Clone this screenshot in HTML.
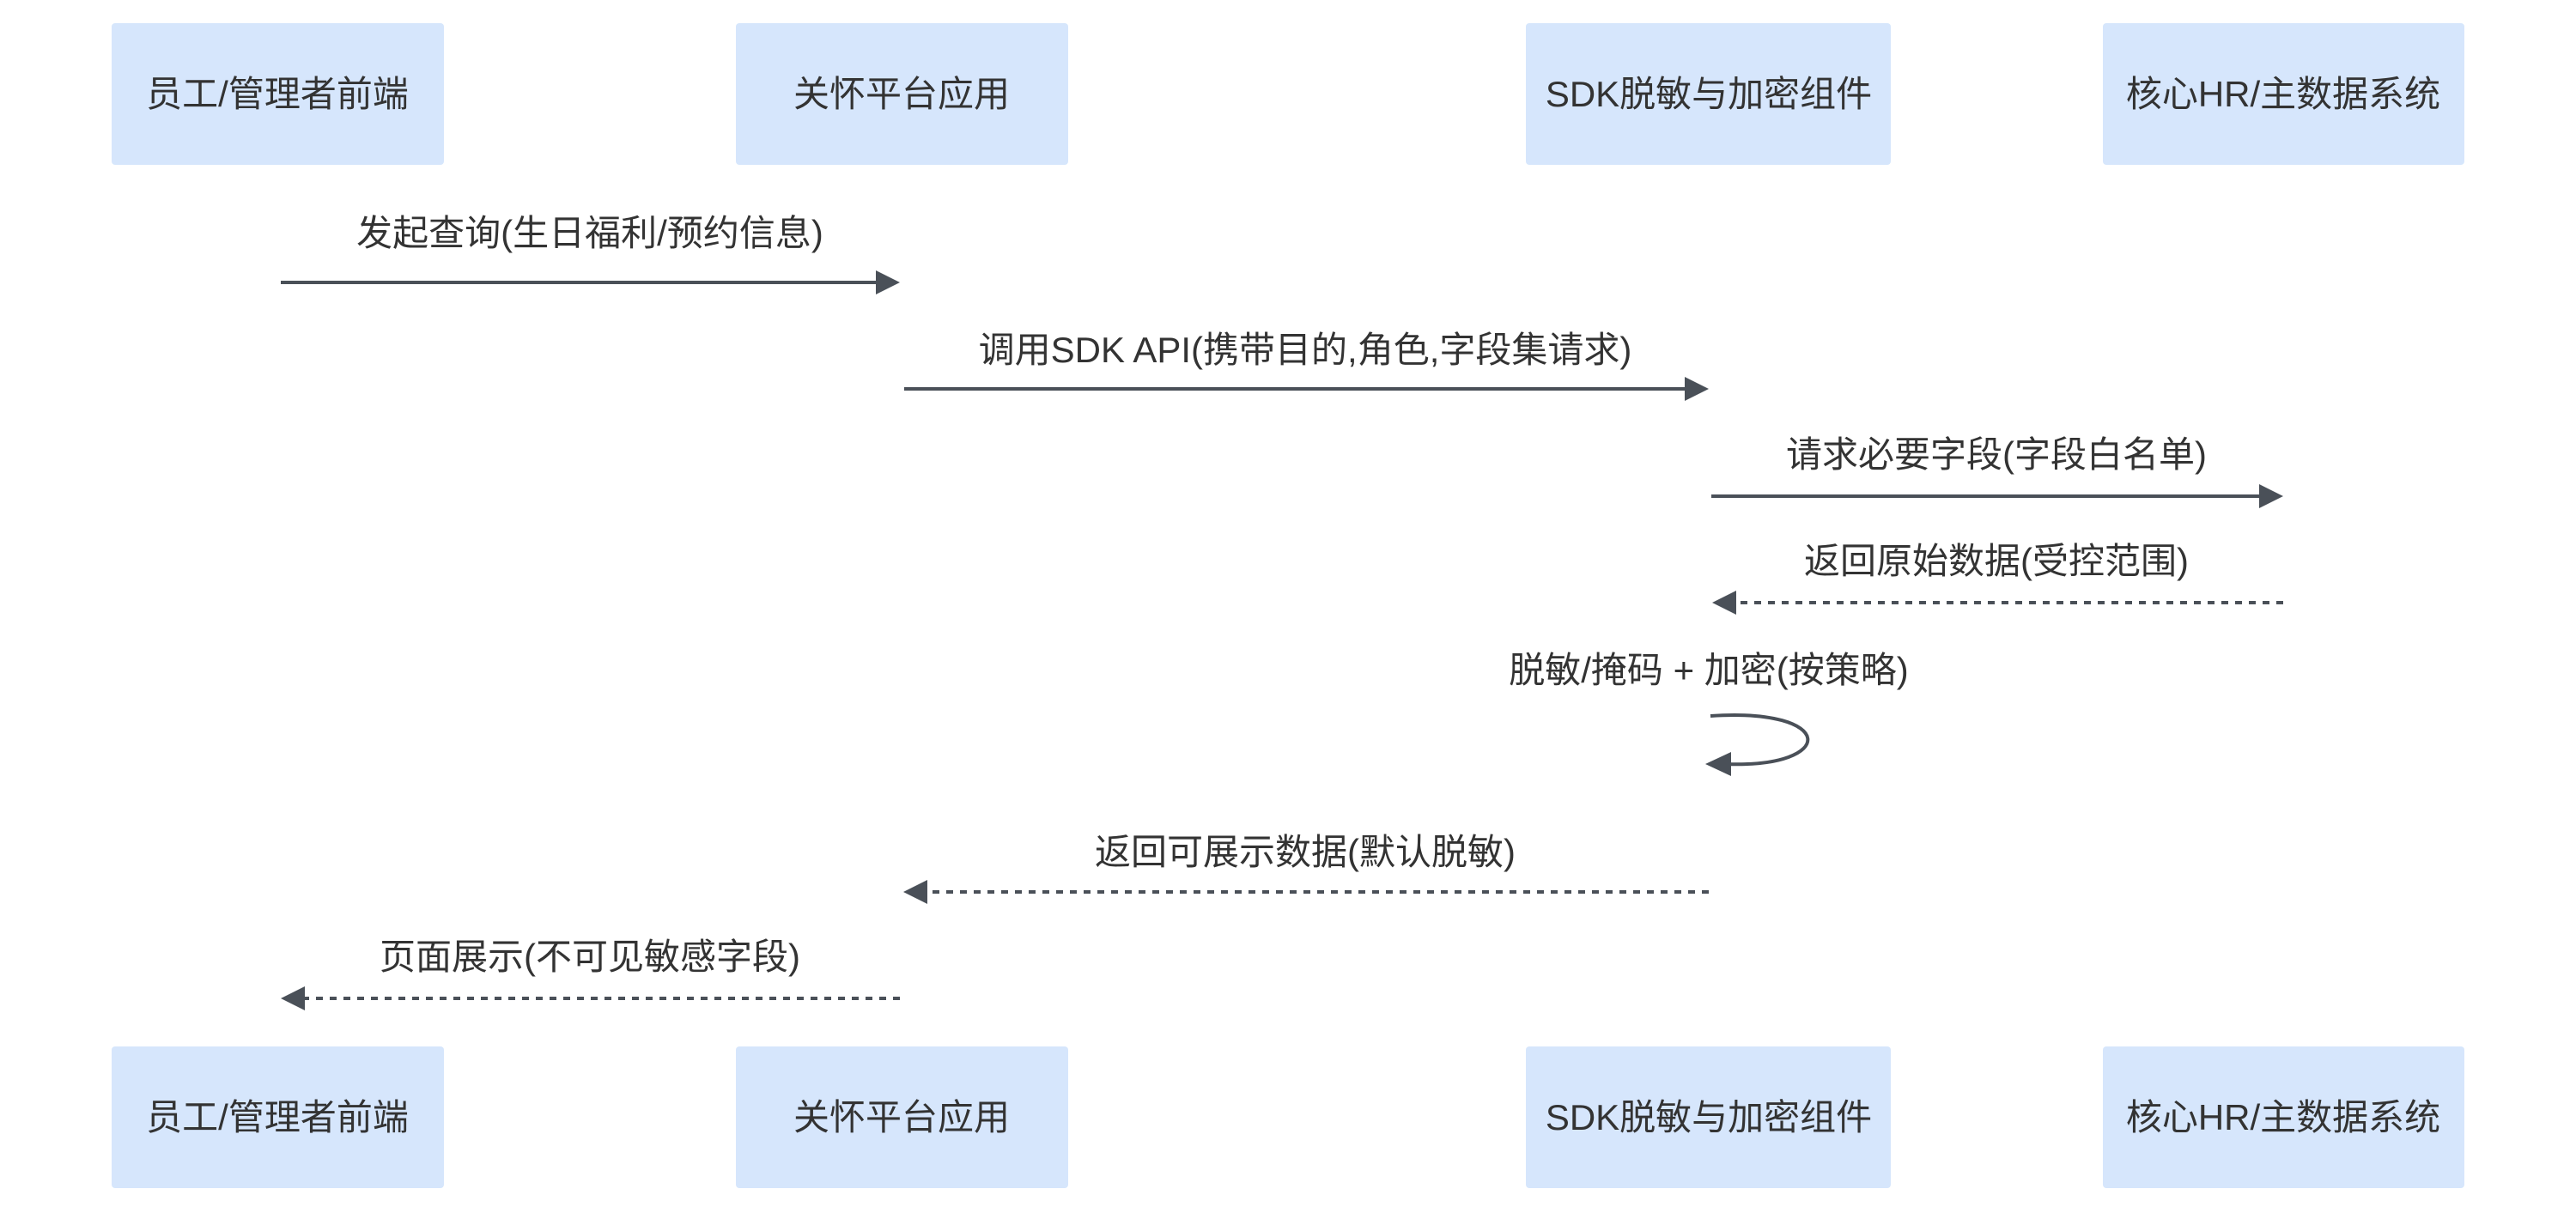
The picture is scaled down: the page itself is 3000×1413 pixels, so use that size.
<!DOCTYPE html>
<html><head><meta charset="utf-8"><style>
body{margin:0;background:#fff;}
svg{display:block;}
text{font-family:"Liberation Sans","Noto Sans CJK SC",sans-serif;fill:#333;}
</style></head><body>
<svg width="3000" height="1413" viewBox="0 0 3000 1413" xmlns="http://www.w3.org/2000/svg">
<g fill="#d6e6fc">
<rect x="130" y="27" width="387" height="165" rx="4"/>
<rect x="857" y="27" width="387" height="165" rx="4"/>
<rect x="1777" y="27" width="425" height="165" rx="4"/>
<rect x="2449" y="27" width="421" height="165" rx="4"/>
<rect x="130" y="1219" width="387" height="165" rx="4"/>
<rect x="857" y="1219" width="387" height="165" rx="4"/>
<rect x="1777" y="1219" width="425" height="165" rx="4"/>
<rect x="2449" y="1219" width="421" height="165" rx="4"/>
</g>
<g font-size="42" text-anchor="middle">
<text x="323" y="124">员工/管理者前端</text>
<text x="1050" y="124">关怀平台应用</text>
<text x="1990" y="124">SDK脱敏与加密组件</text>
<text x="2659" y="124">核心HR/主数据系统</text>
<text x="323" y="1316">员工/管理者前端</text>
<text x="1050" y="1316">关怀平台应用</text>
<text x="1990" y="1316">SDK脱敏与加密组件</text>
<text x="2659" y="1316">核心HR/主数据系统</text>
<text x="687" y="286">发起查询(生日福利/预约信息)</text>
<text x="1520" y="422">调用SDK API(携带目的,角色,字段集请求)</text>
<text x="2325" y="544">请求必要字段(字段白名单)</text>
<text x="2325" y="668">返回原始数据(受控范围)</text>
<text x="1990" y="795">脱敏/掩码 + 加密(按策略)</text>
<text x="1520" y="1007">返回可展示数据(默认脱敏)</text>
<text x="687" y="1129">页面展示(不可见敏感字段)</text>
</g>
<g stroke="#4a5058" stroke-width="4" fill="none">
<line x1="327" y1="329" x2="1024" y2="329"/>
<line x1="1053" y1="453" x2="1966" y2="453"/>
<line x1="1993" y1="578" x2="2634" y2="578"/>
<line x1="2659" y1="702" x2="2018" y2="702" stroke-dasharray="8,8"/>
<path d="M1992,834 C2140,824 2140,895 2010,890"/>
<line x1="1990" y1="1039" x2="1078" y2="1039" stroke-dasharray="8,8"/>
<line x1="1048" y1="1163" x2="354" y2="1163" stroke-dasharray="8,8"/>
</g>
<g fill="#4a5058">
<polygon points="1048,329 1020,315 1020,343"/>
<polygon points="1990,453 1962,439 1962,467"/>
<polygon points="2659,578 2631,564 2631,592"/>
<polygon points="1994,702 2022,688 2022,716"/>
<polygon points="1986,890 2016,876 2016,904"/>
<polygon points="1052,1039 1080,1025 1080,1053"/>
<polygon points="327,1163 355,1149 355,1177"/>
</g>
</svg>
</body></html>
